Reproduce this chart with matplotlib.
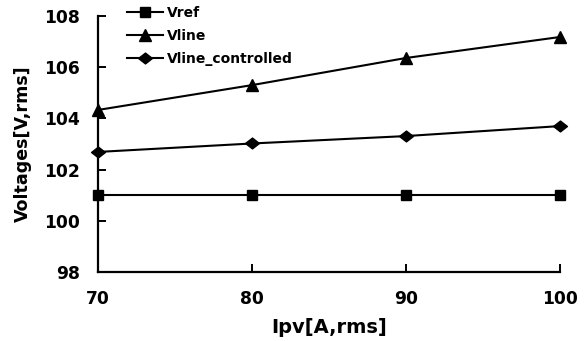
import matplotlib
matplotlib.use("Agg")
import matplotlib.pyplot as plt
from matplotlib.path import Path

plt.rcParams['font.family'] = ['DejaVu Sans']
plt.rcParams['font.weight'] = 'bold'

ipv = [70, 80, 90, 100]
vref = [101.0, 101.0, 101.0, 101.0]
vline = [104.33, 105.3, 106.36, 107.18]
vline_ctrl = [102.69, 103.02, 103.31, 103.70]
xticks = [70, 80, 90, 100]
yticks = [98, 100, 102, 104, 106, 108]

diamond = Path([(-1, 0), (0, 0.78), (1, 0), (0, -0.78), (-1, 0)],
               [Path.MOVETO, Path.LINETO, Path.LINETO, Path.LINETO, Path.CLOSEPOLY])

fig = plt.figure(figsize=(5.88, 3.41), dpi=100)
ax = fig.add_axes([98/588, 1-272/341, (560-98)/588, (272-16)/341])

ax.plot(ipv, vref, color='black', lw=1.5, marker='s', ms=7.5, label='Vref', clip_on=False)
ax.plot(ipv, vline, color='black', lw=1.5, marker='^', ms=8.5, label='Vline', clip_on=False)
ax.plot(ipv, vline_ctrl, color='black', lw=1.5, marker=diamond, ms=10, label='Vline_controlled', clip_on=False)

ax.set_xlim(70, 100)
ax.set_ylim(98, 108)
ax.set_xticks(xticks)
ax.set_yticks(yticks)
ax.spines['top'].set_visible(False)
ax.spines['right'].set_visible(False)
ax.spines['left'].set_linewidth(1.6)
ax.spines['bottom'].set_linewidth(1.6)
ax.tick_params(direction='in', length=6, width=1.4, labelsize=12.3)
ax.tick_params(axis='x', pad=13)
ax.tick_params(axis='y', pad=13)
for t in ax.get_xticklabels() + ax.get_yticklabels():
    t.set_fontweight('bold')
ax.set_xlabel('Ipv[A,rms]', fontsize=14, fontweight='bold', labelpad=7)
ax.set_ylabel('Voltages[V,rms]', fontsize=12.6, fontweight='bold', labelpad=9)

leg = ax.legend(loc='upper left', bbox_to_anchor=(127/588, 1-6/341), bbox_transform=fig.transFigure,
                frameon=False, prop={'weight': 'bold', 'size': 10}, handlelength=2.6,
                labelspacing=0.66, handletextpad=0.3, borderaxespad=0, borderpad=0.0)

fig.savefig('out.png', dpi=100)
